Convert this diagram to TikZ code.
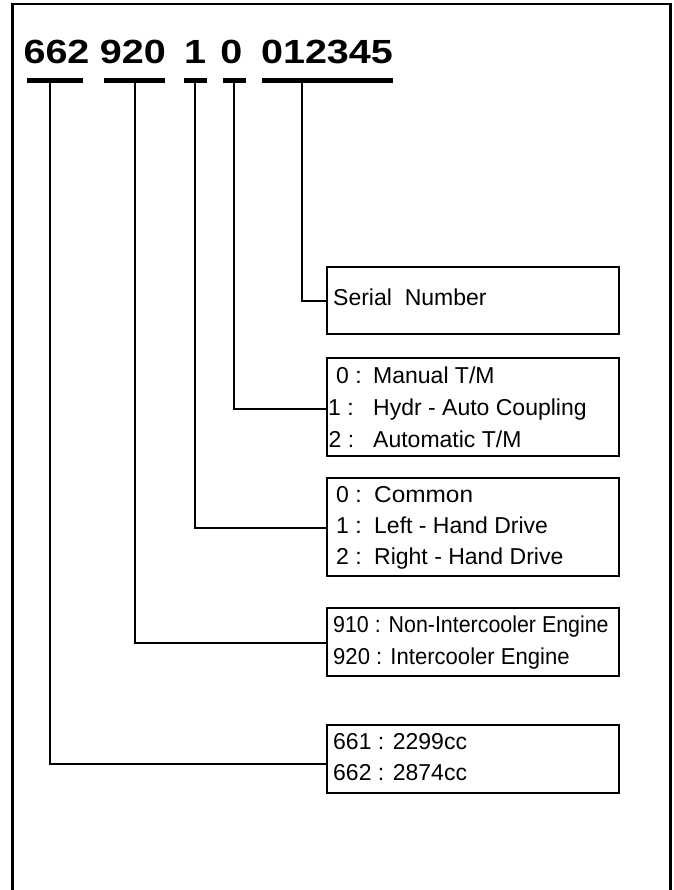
\documentclass[tikz,border=0pt]{standalone}
\usepackage{fontspec}
\setmainfont{Liberation Sans}
\begin{document}
\begin{tikzpicture}[x=1pt,y=-1pt,
  frame/.style={line width=2.5pt},
  bar/.style={line width=5pt},
  conn/.style={line width=2pt},
  box/.style={draw, line width=2pt, rectangle, inner sep=0pt, minimum width=292pt, anchor=north west},
  lbl/.style={inner sep=0pt, anchor=base west, font=\fontsize{23}{27}\selectfont},
  head/.style={inner sep=0pt, anchor=base, font=\fontsize{33.5}{40}\selectfont\bfseries}]
\useasboundingbox (0,0) rectangle (673,890);
% outer frame (open at bottom)
\draw[frame] (12.7,895) -- (12.7,4) -- (670.7,4) -- (670.7,895);
% header code
\node[head] (g1) at (56.5,63.5) {\scalebox{1.18}[1]{662}};
\node[head] (g2) at (132.8,63.5) {\scalebox{1.18}[1]{920}};
\node[head] (g3) at (195,63.5) {\scalebox{1.18}[1]{1}};
\node[head] (g4) at (231.3,63.5) {\scalebox{1.18}[1]{0}};
\node[head] (g5) at (327,63.5) {\scalebox{1.18}[1]{012345}};
% bars
\draw[bar] (26.7,80.5) -- (83.3,80.5);
\draw[bar] (104,80.5) -- (165,80.5);
\draw[bar] (184,80.5) -- (207,80.5);
\draw[bar] (223,80.5) -- (246,80.5);
\draw[bar] (262,80.5) -- (393,80.5);
\coordinate (t1) at (50,80.5);
\coordinate (t2) at (135,80.5);
\coordinate (t3) at (195,80.5);
\coordinate (t4) at (234,80.5);
\coordinate (t5) at (302,80.5);
% boxes
\node[box, minimum height=67pt] (serial) at (326,266) {};
\node[box, minimum height=98pt] (trans) at (326,357) {};
\node[box, minimum height=98pt] (drive) at (326,477) {};
\node[box, minimum height=68pt] (engine) at (326,607) {};
\node[box, minimum height=68pt] (disp) at (326,724) {};
% connectors
\draw[conn] (t5) |- (serial.west);
\draw[conn] (t4) |- ([yshift=-2pt]trans.west);
\draw[conn] (t3) |- ([yshift=-1pt]drive.west);
\draw[conn] (t2) |- ([yshift=-1pt]engine.west);
\draw[conn] (t1) |- ([yshift=-4.5pt]disp.west);
% texts
\node[lbl] (sn) at (333,305) {Serial~~Number};
\node[lbl] (tr0) at (336,383) {0 :};
\node[lbl] (tr0b) at (373,383) {Manual T/M};
\node[lbl] (tr1) at (328,415) {1 :};
\node[lbl] (tr1b) at (373,415) {Hydr - Auto Coupling};
\node[lbl] (tr2) at (328.5,447) {2 :};
\node[lbl] (tr2b) at (373,447) {Automatic T/M};
\node[lbl] (dr0) at (336,502.3) {0 :};
\node[lbl] (dr0b) at (374,502.3) {\scalebox{1.06}[1]{Common}};
\node[lbl] (dr1) at (336,533.3) {1 :};
\node[lbl] (dr1b) at (374,533.3) {Left - Hand Drive};
\node[lbl] (dr2) at (336,564.3) {2 :};
\node[lbl] (dr2b) at (374,564.3) {Right - Hand Drive};
\node[lbl] (en1) at (333,632.7) {\scalebox{0.93}[1]{910 : Non-Intercooler Engine}};
\node[lbl] (en2) at (333,664) {\scalebox{0.96}[1]{920 : Intercooler Engine}};
\node[lbl] (ds1) at (333,749.3) {661 : 2299cc};
\node[lbl] (ds2) at (333,780.7) {662 : 2874cc};
\end{tikzpicture}
\end{document}
